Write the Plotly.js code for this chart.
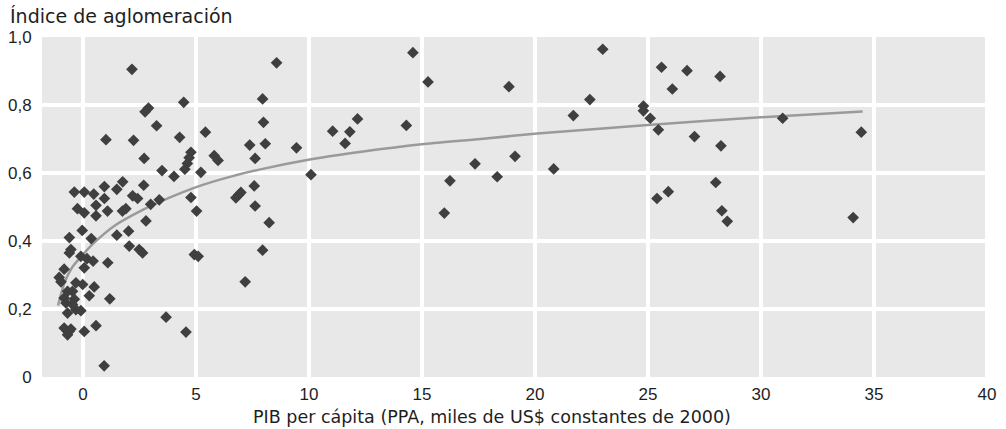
<!DOCTYPE html>
<html>
<head>
<meta charset="utf-8">
<script src="https://cdn.plot.ly/plotly-3.0.1.min.js"></script>
<style>html,body{margin:0;padding:0;background:#fff;}#chart{width:1006px;height:429px;}</style>
</head>
<body>
<div id="chart"></div>
<script>
// PIB per cápita (miles de US$ de 2000, PPA)
const gdpX = [
  2.17, 8.57, 14.6, 23.0, 15.27, 18.85, 22.43, 21.7, 24.8, 24.8,
  25.1, 25.6, 26.73, 28.19, 26.08, 25.46, 27.06, 28.23, 30.96, 34.44,
  28.0, 25.9, 25.4, 28.27, 28.51, 34.08, 11.05, 11.81, 12.15, 11.6,
  14.31, 10.09, 16.24, 15.99, 17.35, 18.33, 19.12, 20.83, 9.45, 7.95,
  7.99, 8.07, 7.38, 7.62, 7.58, 6.77, 6.9, 6.99, 7.62, 8.24,
  7.95, 7.18, 4.46, 2.9, 2.75, 3.26, 1.02, 2.24, 4.28, 2.71,
  5.42, 3.5, 4.03, 4.78, 4.7, 4.62, 4.51, 5.22, 5.81, 5.98,
  4.78, 5.03, 4.93, 5.1, 3.68, 4.56, -0.38, 0.06, 0.48, 0.95,
  1.76, 1.5, 2.69, 0.95, 2.2, 2.42, -0.24, 0.06, 0.58, 1.09,
  0.58, 1.75, 1.9, 3.0, 3.38, 2.79, -0.03, -0.6, 0.37, 1.5,
  2.02, -0.53, -0.6, 2.05, 2.49, 2.64, -0.09, 0.18, 0.45, 1.1,
  0.06, -0.83, -1.05, -0.97, -0.31, -0.01, 0.5, -0.68, -0.46, 0.28,
  -0.83, -0.38, 1.19, -0.75, -0.46, -0.31, -0.68, -0.09, -0.83, -0.53,
  -0.68, 0.06, 0.58, 0.94, -0.6
];
// Índice de aglomeración
const aggY = [
  0.905, 0.924, 0.954, 0.964, 0.868, 0.854, 0.816, 0.769, 0.797, 0.783,
  0.761, 0.911, 0.901, 0.884, 0.847, 0.727, 0.707, 0.680, 0.761, 0.720,
  0.572, 0.545, 0.525, 0.489, 0.458, 0.469, 0.723, 0.721, 0.759, 0.687,
  0.740, 0.595, 0.577, 0.482, 0.627, 0.589, 0.649, 0.612, 0.674, 0.818,
  0.749, 0.686, 0.682, 0.643, 0.562, 0.527, 0.536, 0.543, 0.503, 0.454,
  0.373, 0.280, 0.808, 0.791, 0.780, 0.739, 0.698, 0.696, 0.705, 0.643,
  0.720, 0.607, 0.590, 0.661, 0.645, 0.628, 0.611, 0.602, 0.651, 0.637,
  0.528, 0.488, 0.360, 0.355, 0.176, 0.132, 0.544, 0.544, 0.538, 0.560,
  0.574, 0.552, 0.564, 0.525, 0.533, 0.525, 0.495, 0.483, 0.505, 0.488,
  0.474, 0.488, 0.495, 0.508, 0.521, 0.459, 0.431, 0.410, 0.407, 0.417,
  0.429, 0.375, 0.365, 0.385, 0.375, 0.365, 0.355, 0.348, 0.341, 0.336,
  0.321, 0.317, 0.293, 0.280, 0.277, 0.272, 0.265, 0.252, 0.252, 0.239,
  0.232, 0.229, 0.230, 0.218, 0.213, 0.198, 0.188, 0.195, 0.144, 0.141,
  0.124, 0.134, 0.151, 0.033, 0.135
];
// Curva de ajuste
const curveX = [-1.1, -0.8, -0.5, 0, 0.5, 1.4, 2.6, 3.4, 4.4, 5.3, 6.3, 7.8, 9.8, 12.4, 15.1, 17.6, 20.1, 25, 30, 34.5];
const curveY = [0.21, 0.28, 0.32, 0.36, 0.395, 0.445, 0.49, 0.515, 0.543, 0.565, 0.585, 0.61, 0.637, 0.663, 0.685, 0.70, 0.716, 0.741, 0.764, 0.781];

const xTickVals = [0, 5, 10, 15, 20, 25, 30, 35, 40];
const xTickText = ['0', '5', '10', '15', '20', '25', '30', '35', '40'];
const yTickVals = [0, 0.2, 0.4, 0.6, 0.8, 1.0];
const yTickText = ['0', '0,2', '0,4', '0,6', '0,8', '1,0'];

const textColor = '#1e1e1e';
const traces = [
  {
    x: curveX, y: curveY, type: 'scatter', mode: 'lines',
    line: {color: '#9a9a9a', width: 2.5, shape: 'spline', smoothing: 0.8},
    hoverinfo: 'skip'
  },
  {
    x: gdpX, y: aggY, type: 'scatter', mode: 'markers',
    marker: {symbol: 'diamond', size: 9, color: '#3f3f3f', line: {width: 0}}
  }
];

const layout = {
  width: 1006, height: 429,
  margin: {l: 42, r: 17, t: 37, b: 52},
  paper_bgcolor: '#ffffff',
  plot_bgcolor: '#e8e8e8',
  showlegend: false,
  font: {family: 'Liberation Sans, Arial, sans-serif', color: textColor, size: 16},
  xaxis: {
    range: [-1.81, 40.09],
    tickvals: xTickVals, ticktext: xTickText,
    showgrid: true, gridcolor: '#ffffff', gridwidth: 3.5,
    zeroline: true, zerolinecolor: '#ffffff', zerolinewidth: 3.5,
    showline: false,
    ticks: 'outside', ticklen: 2, tickcolor: 'rgba(0,0,0,0)',
    tickfont: {family: 'Liberation Sans, Arial, sans-serif', size: 17, color: textColor},
    fixedrange: true
  },
  yaxis: {
    range: [0, 1.0],
    tickvals: yTickVals, ticktext: yTickText,
    showgrid: true, gridcolor: '#ffffff', gridwidth: 3.5,
    zeroline: false,
    showline: false,
    ticks: 'outside', ticklen: 6, tickcolor: 'rgba(0,0,0,0)',
    tickfont: {family: 'Liberation Sans, Arial, sans-serif', size: 17, color: textColor},
    fixedrange: true
  },
  annotations: [
    {
      text: 'Índice de aglomeración', xref: 'paper', yref: 'paper',
      x: -0.0359, y: 1.062, xanchor: 'left', yanchor: 'middle', showarrow: false,
      font: {family: 'DejaVu Sans, sans-serif', size: 19, color: textColor}
    },
    {
      text: 'PIB per cápita (PPA, miles de US$ constantes de 2000)', xref: 'paper', yref: 'paper',
      x: 0.475, y: -0.118, xanchor: 'center', yanchor: 'middle', showarrow: false,
      font: {family: 'DejaVu Sans, sans-serif', size: 17.5, color: textColor}
    }
  ]
};

Plotly.newPlot('chart', traces, layout, {displayModeBar: false, staticPlot: true});
</script>
</body>
</html>
